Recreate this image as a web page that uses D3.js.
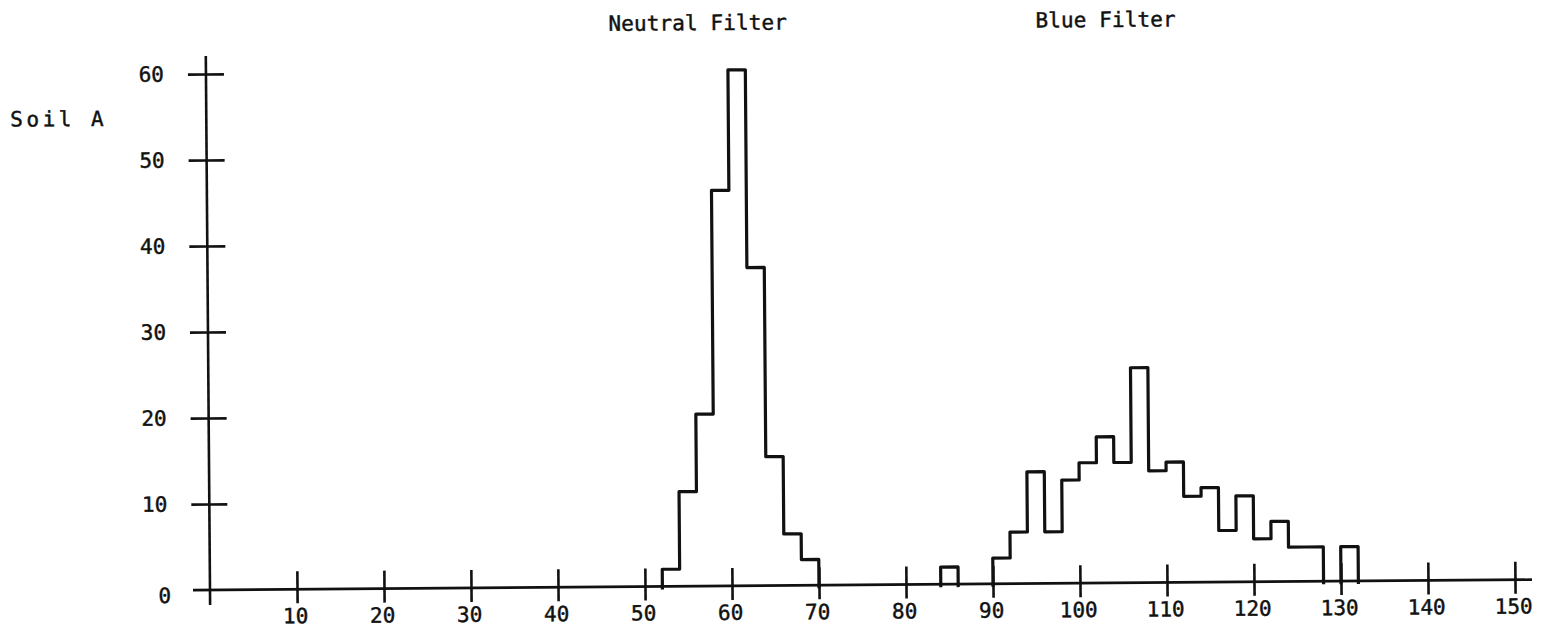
<!DOCTYPE html>
<html>
<head>
<meta charset="utf-8">
<script src="https://cdn.jsdelivr.net/npm/d3@7"></script>
<style>
  body { margin: 0; background: #fff; }
  svg { display: block; }
  text { font-family: "DejaVu Sans Mono", monospace; fill: #111; stroke: #111; stroke-width: 0.45px; }
</style>
</head>
<body>
<div id="chart"></div>
<script>
const xTicks = [10, 20, 30, 40, 50, 60, 70, 80, 90, 100, 110, 120, 130, 140, 150];
const yTicks = [0, 10, 20, 30, 40, 50, 60];

const binWidth = 2;
const neutralBins = [52, 54, 56, 58, 60, 62, 64, 66, 68];
const neutralCounts = [2, 11, 20, 46, 60, 37, 15, 6, 3];

const blueBins = [84, 86, 88, 90, 92, 94, 96, 98, 100, 102, 104, 106, 108, 110, 112, 114, 116, 118, 120, 122, 124, 126, 128, 130];
const blueCounts = [2, 0, 0, 3, 6, 13, 6, 12, 14, 17, 14, 25, 13, 14, 10, 11, 6, 10, 5, 7, 4, 4, 0, 4];

const W = 1546, H = 636;

const x = d3.scaleLinear().domain([0, 150]).range([210, 1515]);
const y = d3.scaleLinear().domain([0, 60]).range([590, 74]);

const svg = d3.select('#chart').append('svg')
  .attr('width', W)
  .attr('height', H);

// scanned page is a little skewed, so turn the whole thing around the origin
const g = svg.append('g').attr('transform', `rotate(-0.45 ${x(0)} ${y(0)})`);

// x axis: ticks cross the line, below part carries the labels
const xAxisDown = g.append('g')
  .attr('transform', `translate(0,${y(0)})`)
  .call(d3.axisBottom(x).tickValues(xTicks).tickSize(14).tickSizeOuter(0).tickPadding(5));
xAxisDown.select('.domain').remove();
xAxisDown.selectAll('text')
  .attr('x', -2)
  .style('font-size', '21px');

const xAxisUp = g.append('g')
  .attr('transform', `translate(0,${y(0)})`)
  .call(d3.axisTop(x).tickValues(xTicks).tickSize(18).tickSizeOuter(0).tickFormat(''));
xAxisUp.select('.domain').remove();

// y axis
const yAxisLeft = g.append('g')
  .attr('transform', `translate(${x(0)},0)`)
  .call(d3.axisLeft(y).tickValues(yTicks.filter(d => d > 0)).tickSize(18).tickSizeOuter(0).tickPadding(24));
yAxisLeft.select('.domain').remove();
yAxisLeft.selectAll('text').style('font-size', '21px');

const yAxisRight = g.append('g')
  .attr('transform', `translate(${x(0)},0)`)
  .call(d3.axisRight(y).tickValues(yTicks.filter(d => d > 0)).tickSize(18).tickSizeOuter(0).tickFormat(''));
yAxisRight.select('.domain').remove();

// zero label sits on its own, under the origin row
g.append('text')
  .attr('x', x(0) - 39)
  .attr('y', y(0) + 6)
  .attr('dy', '0.32em')
  .attr('text-anchor', 'end')
  .style('font-size', '21px')
  .text(yTicks[0]);

g.selectAll('.tick line').attr('stroke', '#111').attr('stroke-width', 2.6);

// axis lines
g.append('line')
  .attr('x1', x(0) - 17).attr('x2', x(150) + 17)
  .attr('y1', y(0)).attr('y2', y(0))
  .attr('stroke', '#111').attr('stroke-width', 2.6);

g.append('line')
  .attr('x1', x(0)).attr('x2', x(0))
  .attr('y1', y(60) - 18).attr('y2', y(0) + 15)
  .attr('stroke', '#111').attr('stroke-width', 2.6);

// outline of a histogram, one closed step line per run of non-empty bins
function stepPath(bins, counts) {
  let p = '';
  let open = false;
  bins.forEach((b, i) => {
    const c = counts[i];
    if (c > 0) {
      if (!open) { p += `M${x(b)},${y(0) + 3}V${y(0)}`; open = true; }
      p += `V${y(c)}H${x(b + binWidth)}`;
      const next = counts[i + 1];
      if (!(next > 0)) { p += `V${y(0) + 3}`; open = false; }
    }
  });
  return p;
}

g.append('path')
  .attr('d', stepPath(neutralBins, neutralCounts))
  .attr('fill', 'none').attr('stroke', '#111').attr('stroke-width', 3.2)
  .attr('stroke-linejoin', 'round');

g.append('path')
  .attr('d', stepPath(blueBins, blueCounts))
  .attr('fill', 'none').attr('stroke', '#111').attr('stroke-width', 3.2)
  .attr('stroke-linejoin', 'round');

// labels
g.append('text')
  .attr('x', 613).attr('y', 34)
  .style('font-size', '21px')
  .style('letter-spacing', '0.1px')
  .text('Neutral Filter');

g.append('text')
  .attr('x', 1040).attr('y', 34)
  .style('font-size', '21px')
  .style('letter-spacing', '0.1px')
  .text('Blue Filter');

g.append('text')
  .attr('x', 14).attr('y', 125)
  .style('font-size', '21px')
  .style('letter-spacing', '3.5px')
  .text('Soil A');
</script>
</body>
</html>
